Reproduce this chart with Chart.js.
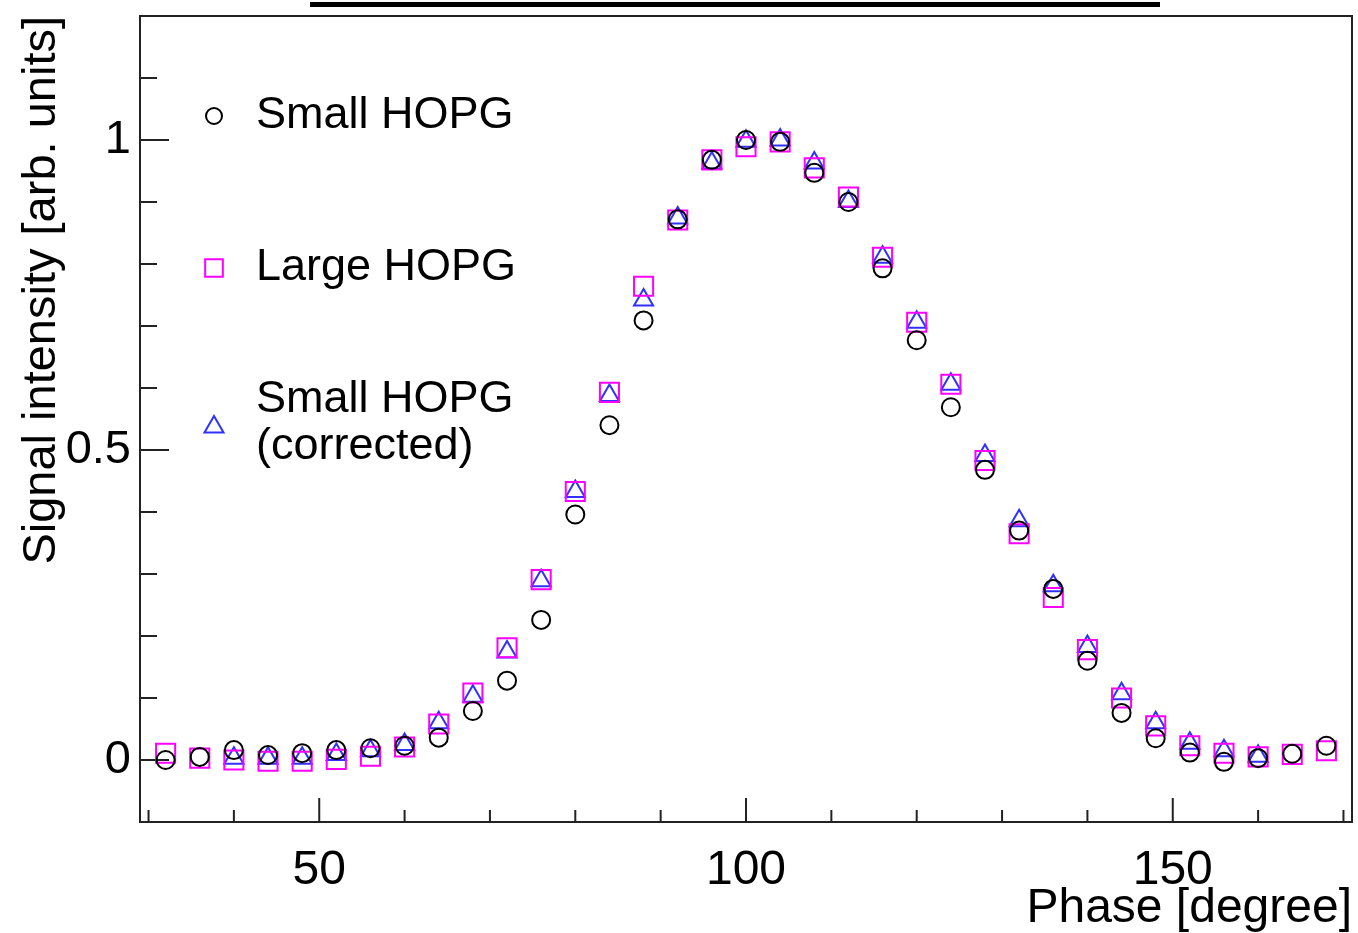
<!DOCTYPE html>
<html lang="en">
<head>
  <meta charset="UTF-8">
  <title>Signal intensity vs phase</title>
  <script src="https://cdn.jsdelivr.net/npm/chart.js"></script>
  <style>
    body {
      margin: 0;
      background: #fff;
    }
    #wrap {
      width: 1358px;
      height: 933px;
    }
  </style>
</head>
<body>
  <div id="wrap">
    <canvas id="phaseChart" width="1358" height="933"></canvas>
  </div>

  <script>
  // phase points in degrees
  const phase = [32, 36, 40, 44, 48, 52, 56, 60, 64, 68, 72, 76, 80, 84, 88, 92, 96, 100,
                 104, 108, 112, 116, 120, 124, 128, 132, 136, 140, 144, 148, 152, 156, 160, 164, 168];

  const smallHopg = [0.0, 0.005, 0.016, 0.008, 0.011, 0.016, 0.019, 0.023, 0.036, 0.079, 0.128, 0.226,
                     0.396, 0.54, 0.709, 0.872, 0.968, 1.0, 0.997, 0.947, 0.9, 0.793, 0.677, 0.569,
                     0.468, 0.37, 0.276, 0.16, 0.076, 0.035, 0.012, -0.003, 0.003, 0.01, 0.023];

  const largeHopg = [0.011, 0.003, 0.0, -0.002, -0.002, 0.001, 0.006, 0.021, 0.058, 0.108, 0.181, 0.291,
                     0.433, 0.593, 0.764, 0.871, 0.968, 0.989, 0.997, 0.955, 0.908, 0.811, 0.706, 0.606,
                     0.483, 0.365, 0.262, 0.178, 0.1, 0.055, 0.023, 0.011, 0.005, 0.009, 0.015];

  // corrected series has no points at the first two and last two phases
  const smallCorrected = [null, null, 0.003, 0.003, 0.003, 0.009, 0.015, 0.025, 0.06, 0.103, 0.174, 0.289,
                          0.433, 0.588, 0.742, 0.874, 0.963, 0.998, 1.0, 0.963, 0.901, 0.811, 0.706, 0.606,
                          0.491, 0.386, 0.281, 0.183, 0.107, 0.06, 0.027, 0.015, 0.006, null, null];

  const xLabels = [50, 100, 150];
  const yLabels = [0, 0.5, 1];

  function toPoints(values) {
    const pts = [];
    values.forEach((v, i) => {
      if (v !== null) pts.push({ x: phase[i], y: v });
    });
    return pts;
  }

  const isLabel = (list, v) => list.some(l => Math.abs(l - v) < 1e-6);

  Chart.defaults.font.family = "'Liberation Sans', Arial, sans-serif";
  Chart.defaults.color = "#000";

  // frame and ROOT-style inward ticks
  const frameTicks = {
    id: "frameTicks",
    beforeDatasetsDraw(chart) {
      const { ctx, chartArea: a, scales: { x, y } } = chart;
      ctx.save();
      ctx.strokeStyle = "#222";
      ctx.lineWidth = 2;
      ctx.strokeRect(a.left, a.top, a.right - a.left, a.bottom - a.top);
      ctx.beginPath();
      x.ticks.forEach(t => {
        const px = x.getPixelForValue(t.value);
        const len = isLabel(xLabels, t.value) ? 24 : 12;
        ctx.moveTo(px, a.bottom);
        ctx.lineTo(px, a.bottom - len);
      });
      y.ticks.forEach(t => {
        const py = y.getPixelForValue(t.value);
        const len = isLabel(yLabels, t.value) ? 29 : 17;
        ctx.moveTo(a.left, py);
        ctx.lineTo(a.left + len, py);
      });
      ctx.stroke();
      ctx.restore();
    },
    afterDraw(chart) {
      const { ctx } = chart;
      ctx.save();
      // underline of the title above the frame
      ctx.fillStyle = "#000";
      ctx.fillRect(310, 2, 850, 5);

      // legend
      const rows = [
        { ds: 0, r: 8, my: 116, lines: ["Small HOPG"], ty: 116 },
        { ds: 1, r: 12.5, my: 268, lines: ["Large HOPG"], ty: 268 },
        { ds: 2, r: 11, my: 427, lines: ["Small HOPG", "(corrected)"], ty: 400 }
      ];
      ctx.font = "45px 'Liberation Sans', Arial, sans-serif";
      ctx.textBaseline = "middle";
      ctx.textAlign = "left";
      rows.forEach(r => {
        const ds = chart.data.datasets[r.ds];
        ctx.strokeStyle = ds.borderColor;
        ctx.fillStyle = "rgba(0,0,0,0)";
        ctx.lineWidth = 2;
        Chart.helpers.drawPoint(ctx, {
          pointStyle: ds.pointStyle,
          radius: r.r,
          rotation: 0,
          borderWidth: 2
        }, 214, r.my);
        ctx.fillStyle = "#000";
        r.lines.forEach((txt, k) => ctx.fillText(txt, 256, r.ty + k * 47));
      });
      ctx.restore();
    }
  };

  new Chart(document.getElementById("phaseChart"), {
    type: "scatter",
    data: {
      datasets: [
        {
          label: "Small HOPG",
          data: toPoints(smallHopg),
          pointStyle: "circle",
          radius: 9,
          borderColor: "#000000",
          backgroundColor: "rgba(0,0,0,0)",
          borderWidth: 2
        },
        {
          label: "Large HOPG",
          data: toPoints(largeHopg),
          pointStyle: "rect",
          radius: 13.5,
          borderColor: "#ff00ff",
          backgroundColor: "rgba(0,0,0,0)",
          borderWidth: 2
        },
        {
          label: "Small HOPG (corrected)",
          data: toPoints(smallCorrected),
          pointStyle: "triangle",
          radius: 11,
          borderColor: "#3030ff",
          backgroundColor: "rgba(0,0,0,0)",
          borderWidth: 2
        }
      ]
    },
    options: {
      responsive: false,
      animation: false,
      clip: false,
      layout: {
        autoPadding: false,
        padding: { left: 0, top: 16, right: 6, bottom: 0 }
      },
      plugins: {
        legend: { display: false },
        tooltip: { enabled: false }
      },
      scales: {
        x: {
          type: "linear",
          min: 29,
          max: 171,
          grid: { display: false, drawTicks: false, tickLength: 0 },
          border: { display: false },
          ticks: {
            stepSize: 10,
            includeBounds: false,
            autoSkip: false,
            maxRotation: 0,
            padding: 20,
            font: { size: 48 },
            callback: v => isLabel(xLabels, v) ? String(v) : ""
          },
          title: {
            display: true,
            text: "Phase [degree]",
            align: "end",
            font: { size: 48, lineHeight: 1 },
            padding: { top: 0, bottom: 0 }
          },
          afterFit: s => {
            s.height = 111;
            s.paddingLeft = 0;
            s.paddingRight = 0;
          }
        },
        y: {
          type: "linear",
          min: -0.1,
          max: 1.2,
          grid: { display: false, drawTicks: false, tickLength: 0 },
          border: { display: false },
          ticks: {
            stepSize: 0.1,
            includeBounds: false,
            autoSkip: false,
            padding: 9,
            font: { size: 47 },
            callback: v => isLabel(yLabels, v) ? String(Math.round(v * 10) / 10) : ""
          },
          title: {
            display: true,
            text: "Signal intensity [arb. units]",
            align: "end",
            font: { size: 47, lineHeight: 1 },
            padding: { top: 19, bottom: 0 }
          },
          afterFit: s => {
            s.width = 140;
            s.paddingTop = 0;
            s.paddingBottom = 0;
          }
        }
      }
    },
    plugins: [frameTicks]
  });
  </script>
</body>
</html>
